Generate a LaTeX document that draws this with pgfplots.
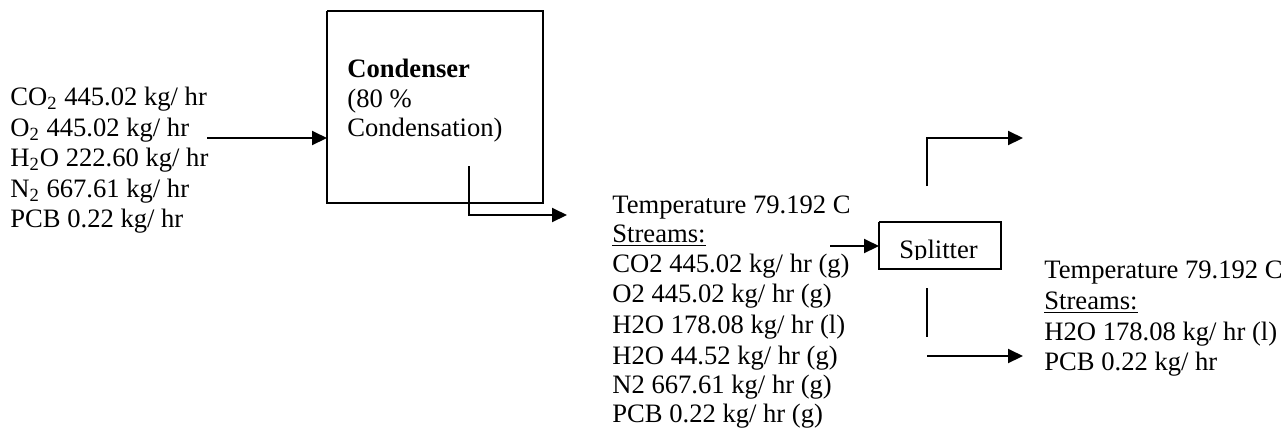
\documentclass[border=0pt]{standalone}
\usepackage{fontspec}
\setmainfont{Liberation Serif}
\usepackage{pgfplots}
\pgfplotsset{compat=1.18}
\usetikzlibrary{arrows.meta}
\tikzset{
  txt/.style={anchor=base west, inner sep=0pt, font=\fontsize{13.3pt}{15pt}\selectfont},
  ln/.style={black, line width=1pt, mark=none},
  arr/.style={ln, -{Triangle[length=7.5pt,width=7pt]}},
}
\begin{document}
\begin{tikzpicture}
\begin{axis}[
  width=644pt, height=217.5pt, scale only axis,
  xmin=0, xmax=1288, ymin=0, ymax=435, y dir=reverse,
  hide axis, clip=false,
]
% condenser box
\addplot[ln] coordinates {(327,11) (543,11) (543,203) (327,203) (327,11)};
% splitter box
\addplot[ln] coordinates {(879,222) (1001,222) (1001,269) (879,269) (879,222)};
% input arrow
\addplot[arr] coordinates {(207,138) (327,138)};
% condenser outlet
\addplot[arr] coordinates {(469,166) (469,215) (567,215)};
% arrow into splitter
\addplot[arr] coordinates {(830,246) (879,246)};
% top branch
\addplot[arr] coordinates {(927,186) (927,138) (1023,138)};
% bottom branch
\addplot[ln] coordinates {(927,288) (927,337)};
\addplot[arr] coordinates {(927,356) (1023,356)};

% left text
\node[txt] at (axis cs:10,105) {CO\textsubscript{2} 445.02 kg/ hr};
\node[txt] at (axis cs:10,136) {O\textsubscript{2} 445.02 kg/ hr};
\node[txt] at (axis cs:10,166) {H\textsubscript{2}O 222.60 kg/ hr};
\node[txt] at (axis cs:10,197) {N\textsubscript{2} 667.61 kg/ hr};
\node[txt] at (axis cs:10,227) {PCB 0.22 kg/ hr};
% condenser label
\node[txt] at (axis cs:347,77) {\textbf{Condenser}};
\node[txt] at (axis cs:347,107) {(80 \%};
\node[txt] at (axis cs:347,136) {Condensation)};
% middle text
\node[txt] at (axis cs:612,213) {Temperature 79.192 C};
\node[txt] at (axis cs:612,242) {\underline{Streams:}};
\node[txt] at (axis cs:612,272) {CO2 445.02 kg/ hr (g)};
\node[txt] at (axis cs:612,302) {O2 445.02 kg/ hr (g)};
\node[txt] at (axis cs:612,333) {H2O 178.08 kg/ hr (l)};
\node[txt] at (axis cs:612,364) {H2O 44.52 kg/ hr (g)};
\node[txt] at (axis cs:612,393) {N2 667.61 kg/ hr (g)};
\node[txt] at (axis cs:612,422) {PCB 0.22 kg/ hr (g)};
% splitter label (clipped at the box bottom)
\begin{scope}
\clip (axis cs:881,224) rectangle (axis cs:999,259);
\node[txt] at (axis cs:899,258) {Splitter};
\end{scope}
% right text
\node[txt] at (axis cs:1044,278) {Temperature 79.192 C};
\node[txt] at (axis cs:1044,309) {\underline{Streams:}};
\node[txt] at (axis cs:1044,340) {H2O 178.08 kg/ hr (l)};
\node[txt] at (axis cs:1044,370) {PCB 0.22 kg/ hr};
\end{axis}
\pgfresetboundingbox
\path[use as bounding box] (0,0) rectangle (644pt,217.5pt);
\end{tikzpicture}
\end{document}
